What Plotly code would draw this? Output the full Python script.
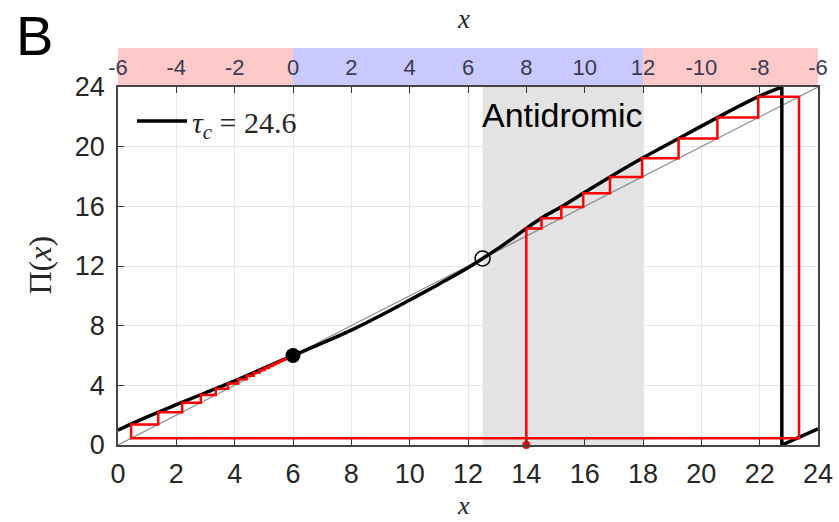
import plotly.graph_objects as go

# ---- data ----
# Pi(x) map, main branch (smooth) up to the jump
curve_x = [0.0, 1.0, 2.0, 3.0, 4.0, 5.0, 6.0, 7.0, 8.0, 9.0, 10.0, 11.0, 12.0, 12.5,
           13.2, 14.0, 14.52, 15.2, 15.95, 16.87, 17.97, 19.22, 20.55, 21.95, 22.76]
curve_y = [1.0, 1.88, 2.7, 3.5, 4.3, 5.15, 6.0, 6.83, 7.7, 8.68, 9.72, 10.78, 11.88, 12.5,
           13.4, 14.52, 15.22, 15.97, 16.88, 17.97, 19.22, 20.55, 21.95, 23.35, 24.0]
# jump and wrapped branch
wrap_x = [22.76, 22.76, 24.0]
wrap_y = [24.0, 0.0, 1.08]
# identity line
diag = [0, 24]
# cobweb iterates (starting at x0 = 14)
iterates = [14.0, 14.52, 15.2, 15.95, 16.87, 17.97, 19.22, 20.55, 21.95, 23.35,
            0.45, 1.38, 2.2, 2.84, 3.35, 3.77, 4.12, 4.41, 4.65, 4.85, 5.02, 5.17,
            5.3, 5.41, 5.5, 5.58, 5.65, 5.71, 5.76, 5.8, 5.84, 5.87, 5.9, 5.92, 5.94]
stable_fp = (6.0, 6.0)
unstable_fp = (12.5, 12.5)
antidromic_range = [12.5, 18.0]
tau_c = 24.6

x_range = [0, 24]
bottom_ticks = list(range(0, 25, 2))
y_ticks = list(range(0, 25, 4))
top_ticktext = ["-6", "-4", "-2", "0", "2", "4", "6", "8", "10", "12", "-10", "-8", "-6"]
top_bands = [(0, 6, "#FFC9C9"), (6, 18, "#C9C9FF"), (18, 24, "#FFC9C9")]

# build cobweb polyline from iterates
cw_x, cw_y = [iterates[0]], [0.0]
for a, b in zip(iterates[:-1], iterates[1:]):
    cw_x += [a, b]
    cw_y += [b, b]

fig = go.Figure()
fig.add_trace(go.Scatter(x=diag, y=diag, mode="lines",
                         line=dict(color="#8c8c8c", width=1.2), showlegend=False,
                         hoverinfo="skip"))
fig.add_trace(go.Scatter(x=curve_x, y=curve_y, mode="lines",
                         line=dict(color="black", width=3.5, shape="spline", smoothing=1.0),
                         name=f"<i>τ</i><sub><i>c</i></sub> = {tau_c}", showlegend=True,
                         cliponaxis=False))
fig.add_trace(go.Scatter(x=wrap_x, y=wrap_y, mode="lines",
                         line=dict(color="black", width=3.5), showlegend=False,
                         cliponaxis=False))
fig.add_trace(go.Scatter(x=cw_x, y=cw_y, mode="lines",
                         line=dict(color="#FF0000", width=2.5), showlegend=False,
                         cliponaxis=False))
fig.add_trace(go.Scatter(x=[stable_fp[0]], y=[stable_fp[1]], mode="markers",
                         marker=dict(color="black", size=15), showlegend=False))
fig.add_trace(go.Scatter(x=[unstable_fp[0]], y=[unstable_fp[1]], mode="markers",
                         marker=dict(symbol="circle-open", color="black", size=15,
                                     line=dict(width=1.5)), showlegend=False))
fig.add_trace(go.Scatter(x=[iterates[0]], y=[0], mode="markers",
                         marker=dict(color="#FF0000", size=8), showlegend=False,
                         cliponaxis=False))
# invisible trace to activate the top axis
fig.add_trace(go.Scatter(x=x_range, y=[0, 0], xaxis="x2", mode="lines",
                         line=dict(width=0), opacity=0, showlegend=False, hoverinfo="skip"))

def frac(v):
    return (v - x_range[0]) / (x_range[1] - x_range[0])

shapes = [dict(type="rect", xref="x", yref="y", x0=antidromic_range[0], x1=antidromic_range[1],
               y0=0, y1=24, fillcolor="#E3E3E3", line=dict(width=0), layer="below")]
for x0, x1, c in top_bands:
    shapes.append(dict(type="rect", xref="paper", yref="paper", x0=frac(x0), x1=frac(x1),
                       y0=1.0, y1=1.109, fillcolor=c, line=dict(width=0), layer="below"))

tickfont = dict(family="Liberation Sans, Arial, sans-serif", size=27, color="#262626")

fig.update_layout(
    width=839, height=522,
    margin=dict(l=118, r=21, t=87, b=77),
    paper_bgcolor="white", plot_bgcolor="white",
    shapes=shapes,
    showlegend=True,
    legend=dict(x=0.02, y=0.905, xanchor="left", yanchor="middle",
                bgcolor="rgba(0,0,0,0)", itemwidth=50,
                font=dict(family="Liberation Serif, serif", size=30, color="#262626")),
    xaxis=dict(range=x_range, tickvals=bottom_ticks, ticks="inside", ticklen=6,
               tickcolor="#333", showgrid=True, gridcolor="#E6E6E6", gridwidth=1,
               showline=True, linecolor="#444", linewidth=1.5, mirror=True,
               zeroline=False, tickfont=tickfont, ticklabelstandoff=4, automargin=False),
    xaxis2=dict(range=x_range, overlaying="x", side="top", tickvals=bottom_ticks,
                ticktext=top_ticktext, ticks="inside", ticklen=6, tickcolor="#333",
                showgrid=False, showline=False, zeroline=False, ticklabelstandoff=7,
                automargin=False,
                tickfont=dict(family="Liberation Sans, Arial, sans-serif", size=22,
                              color="#3a3a50")),
    yaxis=dict(range=[0, 24], tickvals=y_ticks, ticks="inside", ticklen=6,
               tickcolor="#333", showgrid=True, gridcolor="#E6E6E6", gridwidth=1,
               showline=True, linecolor="#444", linewidth=1.5, mirror=True,
               zeroline=False, tickfont=tickfont, ticklabelstandoff=6, automargin=False),
    annotations=[
        dict(text="B", xref="paper", yref="paper", x=-0.12, y=1.143, showarrow=False,
             font=dict(family="Liberation Sans, Arial, sans-serif", size=56, color="black"),
             xanchor="center", yanchor="middle"),
        dict(text="<i>x</i>", xref="paper", yref="paper", x=0.493, y=1.19, showarrow=False,
             font=dict(family="Liberation Serif, serif", size=27, color="#262626"),
             xanchor="center", yanchor="middle"),
        dict(text="<i>x</i>", xref="paper", yref="paper", x=0.493, y=-0.2145, showarrow=False,
             font=dict(family="Liberation Serif, serif", size=26, color="#262626"),
             xanchor="center", yanchor="bottom"),
        dict(text="Π(<i>x</i>)", xref="paper", yref="paper", x=-0.112, y=0.503,
             showarrow=False, textangle=-90,
             font=dict(family="Liberation Serif, serif", size=32, color="#262626"),
             xanchor="center", yanchor="middle"),
        dict(text="Antidromic", xref="x", yref="y", x=15.25, y=22.1, showarrow=False,
             font=dict(family="Liberation Sans, Arial, sans-serif", size=34, color="black"),
             xanchor="center", yanchor="middle"),
    ],
)

fig.write_html("out.html")
